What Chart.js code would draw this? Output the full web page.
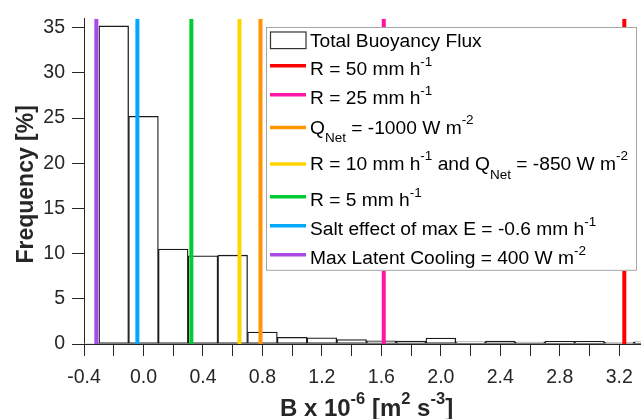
<!DOCTYPE html>
<html>
<head>
<meta charset="utf-8">
<script src="https://cdn.jsdelivr.net/npm/chart.js@4"></script>
<style>
    html, body { margin: 0; padding: 0; background: #ffffff; overflow: hidden; }
    #wrap { width: 660px; height: 419px; }
</style>
</head>
<body>
<div id="wrap"><canvas id="histChart" width="660" height="419"></canvas></div>
<script>
// Histogram bins (bin centres, width 0.2) and frequency in percent
const binCenters = [-0.4, -0.2, 0.0, 0.2, 0.4, 0.6, 0.8, 1.0, 1.2, 1.4,
                    1.6, 1.8, 2.0, 2.2, 2.4, 2.6, 2.8, 3.0, 3.2, 3.4];
const frequency = [0.05, 35.2, 25.2, 10.5, 9.76, 9.83, 1.32, 0.73, 0.69, 0.5,
                   0.36, 0.33, 0.66, 0.25, 0.33, 0.22, 0.29, 0.29, 0.18, 0.25];

// Reference lines (B x 1e-6)
const lineLabels = [
    'R = 50 mm h^{-1}',
    'R = 25 mm h^{-1}',
    'Q_{Net} = -1000 W m^{-2}',
    'R = 10 mm h^{-1} and Q_{Net} = -850 W m^{-2}',
    'R = 5 mm h^{-1}',
    'Salt effect of max E = -0.6 mm h^{-1}',
    'Max Latent Cooling = 400 W m^{-2}'
];
const lineValues = [3.234, 1.616, 0.787, 0.646, 0.322, -0.041, -0.317];
const lineColors = ['#ff0000', '#ff12a6', '#ff9600', '#ffd500', '#00cc33', '#00a8ff', '#a94ae6'];

const xTickLabels = ['-0.4', '0.0', '0.4', '0.8', '1.2', '1.6', '2.0', '2.4', '2.8', '3.2'];
const xMin = -0.4, xMax = 3.4;
const yMin = 0, yMax = 36;

const FONT = '"Liberation Sans", Arial, Helvetica, sans-serif';
const AXIS_COLOR = '#262626';

// Rich text with ^{sup} and _{sub}
function parseRich(str) {
    const parts = [];
    const re = /(\^|_)\{([^}]*)\}/g;
    let last = 0, m;
    while ((m = re.exec(str)) !== null) {
        if (m.index > last) parts.push({ text: str.slice(last, m.index), mode: 'n' });
        parts.push({ text: m[2], mode: m[1] === '^' ? 'sup' : 'sub' });
        last = re.lastIndex;
    }
    if (last < str.length) parts.push({ text: str.slice(last), mode: 'n' });
    return parts;
}

function drawRich(ctx, str, x, y, size, small, weight, align) {
    const parts = parseRich(str);
    const fontFor = p => weight + ' ' + (p.mode === 'n' ? size : small) + 'px ' + FONT;
    let total = 0;
    parts.forEach(p => { ctx.font = fontFor(p); p.w = ctx.measureText(p.text).width; total += p.w; });
    let cx = align === 'center' ? x - total / 2 : x;
    ctx.textAlign = 'left';
    ctx.textBaseline = 'alphabetic';
    parts.forEach(p => {
        ctx.font = fontFor(p);
        let dy = 0;
        if (p.mode === 'sup') dy = -size * 0.5;
        if (p.mode === 'sub') dy = size * 0.45;
        ctx.fillText(p.text, cx, y + dy);
        cx += p.w;
    });
}

// Axis titles and legend
const decorPlugin = {
    id: 'decor',
    afterDraw(chart) {
        const ctx = chart.ctx;
        const area = chart.chartArea;
        ctx.save();
        ctx.fillStyle = AXIS_COLOR;

        // y title
        ctx.save();
        ctx.translate(33, (area.top + area.bottom) / 2 + 3);
        ctx.rotate(-Math.PI / 2);
        ctx.font = 'bold 23px ' + FONT;
        ctx.textAlign = 'center';
        ctx.textBaseline = 'alphabetic';
        ctx.fillText('Frequency [%]', 0, 0);
        ctx.restore();

        // x title
        drawRich(ctx, 'B x 10^{-6} [m^{2} s^{-3}]', (area.left + area.right) / 2, 416, 24, 16.5, 'bold', 'center');

        // legend
        const datasets = chart.data.datasets;
        const boxL = 266, boxR = 637, boxT = 27;
        const rows = datasets.map(ds => {
            const sub = ds.label.indexOf('_{') >= 0;
            const sup = ds.label.indexOf('^{') >= 0;
            return { ds, h: sub ? 36.5 : (sup ? 29 : 22), shift: sub ? 6 : (sup ? 9.5 : 6.4) };
        });
        let yCur = boxT + 2.3;
        rows.forEach(r => { r.cy = yCur + r.h / 2; yCur += r.h; });
        const boxB = yCur + 1.5;

        ctx.fillStyle = '#ffffff';
        ctx.fillRect(boxL, boxT, boxR - boxL, boxB - boxT);
        ctx.strokeStyle = '#a6a6a6';
        ctx.lineWidth = 1;
        ctx.strokeRect(boxL + 0.5, boxT + 0.5, boxR - boxL - 1, boxB - boxT - 1);

        rows.forEach(r => {
            const ds = r.ds;
            if (ds.type === 'line') {
                ctx.strokeStyle = ds.borderColor;
                ctx.lineWidth = 3.5;
                ctx.beginPath();
                ctx.moveTo(270, r.cy);
                ctx.lineTo(306, r.cy);
                ctx.stroke();
            } else {
                ctx.fillStyle = '#ffffff';
                ctx.fillRect(270, r.cy - 8.3, 36, 16.6);
                ctx.strokeStyle = '#333333';
                ctx.lineWidth = 1.2;
                ctx.strokeRect(270.5, r.cy - 8.3, 35.5, 16.6);
            }
            ctx.fillStyle = '#000000';
            drawRich(ctx, ds.label, 310, r.cy + r.shift, 19.2, 13.5, 'normal', 'left');
        });
        ctx.restore();
    }
};

const datasets = [{
    type: 'bar',
    label: 'Total Buoyancy Flux',
    data: binCenters.map((c, i) => ({ x: c, y: frequency[i] })),
    backgroundColor: '#ffffff',
    borderColor: '#1a1a1a',
    borderWidth: 1.3,
    borderSkipped: false,
    barPercentage: 1.0,
    categoryPercentage: 1.0,
    order: 10
}];
lineLabels.forEach((label, i) => {
    datasets.push({
        type: 'line',
        label: label,
        data: [{ x: lineValues[i], y: yMin }, { x: lineValues[i], y: yMax }],
        borderColor: lineColors[i],
        borderWidth: 4,
        pointRadius: 0,
        tension: 0,
        order: 1
    });
});

new Chart(document.getElementById('histChart'), {
    type: 'bar',
    data: { datasets: datasets },
    options: {
        responsive: false,
        animation: false,
        layout: { padding: { top: 15, right: 11, left: 0, bottom: 0 } },
        plugins: {
            legend: { display: false },
            tooltip: { enabled: false }
        },
        scales: {
            x: {
                type: 'linear',
                min: xMin,
                max: xMax,
                offset: false,
                border: { display: true, color: AXIS_COLOR, width: 1 },
                grid: { drawOnChartArea: false, drawTicks: true, tickLength: 12, color: AXIS_COLOR, offset: false },
                ticks: {
                    stepSize: 0.2,
                    autoSkip: false,
                    maxRotation: 0,
                    padding: 10,
                    color: AXIS_COLOR,
                    font: { family: FONT, size: 19.5 },
                    callback: function(value) {
                        const s = (Math.round(value * 10) / 10).toFixed(1);
                        return xTickLabels.indexOf(s) >= 0 ? s : '';
                    }
                },
                afterFit: function(scale) { scale.height = 75; }
            },
            y: {
                min: yMin,
                max: yMax,
                border: { display: true, color: AXIS_COLOR, width: 1 },
                grid: { drawOnChartArea: false, drawTicks: true, tickLength: 12, color: AXIS_COLOR },
                ticks: {
                    stepSize: 5,
                    includeBounds: false,
                    padding: 7,
                    color: AXIS_COLOR,
                    font: { family: FONT, size: 19.5 }
                },
                afterFit: function(scale) { scale.width = 84; }
            }
        }
    },
    plugins: [decorPlugin]
});
</script>
</body>
</html>
